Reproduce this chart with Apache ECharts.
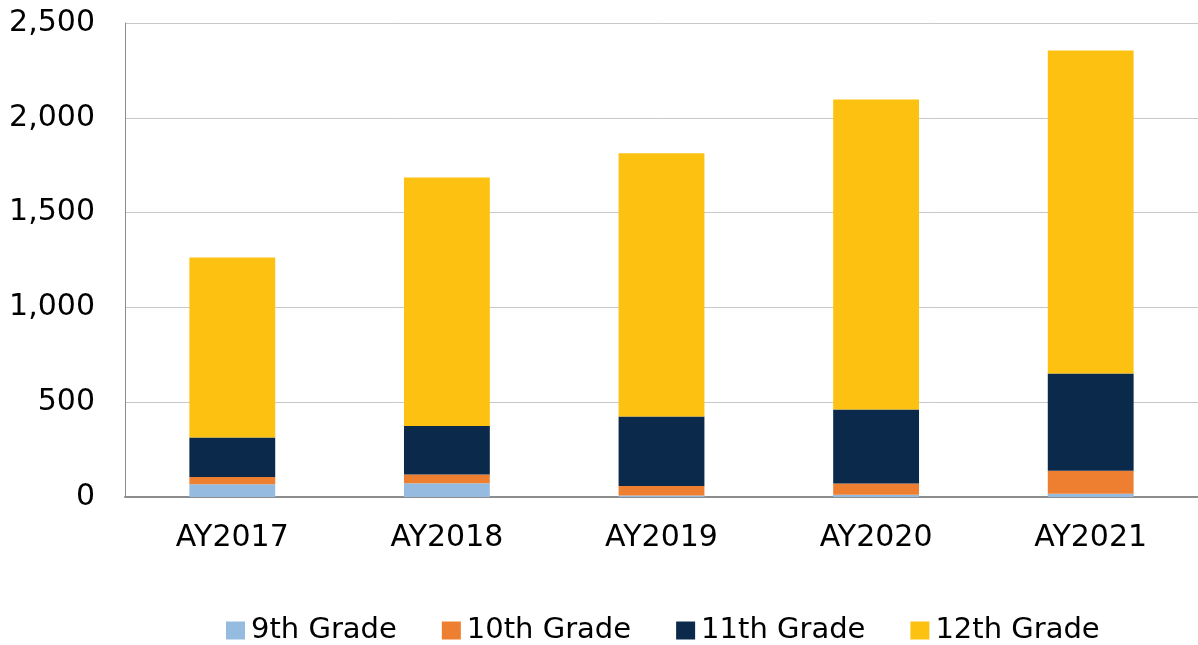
<!DOCTYPE html>
<html>
<head>
<meta charset="utf-8">
<script src="https://cdn.jsdelivr.net/npm/echarts@6/dist/echarts.min.js"></script>
<style>
  html, body { margin: 0; padding: 0; background: #fff; }
  #chart { width: 1198px; height: 645px; }
</style>
</head>
<body>
<div id="chart"></div>
<script>
// Enrollment by grade level, per academic year
const years = ['AY2017', 'AY2018', 'AY2019', 'AY2020', 'AY2021'];
const grade9 = [67, 73, 8, 12, 17];
const grade10 = [39, 46, 50, 59, 121];
const grade11 = [208, 256, 366, 390, 513];
const grade12 = [949, 1310, 1389, 1635, 1704];
const yTicks = [0, 500, 1000, 1500, 2000, 2500];

const font = '"DejaVu Sans", Arial, sans-serif';

function barSeries(name, data, color) {
  return {
    name: name,
    type: 'bar',
    stack: 'total',
    barWidth: '40%',
    data: data,
    itemStyle: { color: color },
    emphasis: { disabled: true }
  };
}

const chart = echarts.init(document.getElementById('chart'), null, { renderer: 'canvas' });
chart.setOption({
  animation: false,
  grid: { left: 125, right: 0, top: 23, bottom: 148 },
  legend: {
    top: 611,
    left: 221,
    itemWidth: 19,
    itemHeight: 18,
    itemGap: 45,
    icon: 'rect',
    textStyle: { fontFamily: font, fontSize: 29, color: '#000', padding: [0, 0, 0, 1] },
    data: ['9th Grade', '10th Grade', '11th Grade', '12th Grade']
  },
  xAxis: {
    type: 'category',
    data: years,
    axisLine: { lineStyle: { color: '#8c8c8c', width: 2 } },
    axisTick: { show: false },
    axisLabel: { fontFamily: font, fontSize: 30, color: '#000', margin: 26 }
  },
  yAxis: {
    type: 'value',
    min: yTicks[0],
    max: yTicks[yTicks.length - 1],
    interval: 500,
    axisLine: { show: true, lineStyle: { color: '#8c8c8c', width: 1 } },
    axisTick: { show: false },
    splitLine: { lineStyle: { color: '#c8c8c8', width: 1 } },
    axisLabel: {
      fontFamily: font, fontSize: 30, color: '#000', margin: 30,
      formatter: v => v.toLocaleString('en-US')
    }
  },
  series: [
    barSeries('9th Grade', grade9, '#95bce0'),
    barSeries('10th Grade', grade10, '#ee7f31'),
    barSeries('11th Grade', grade11, '#0b2a4b'),
    barSeries('12th Grade', grade12, '#fdc211')
  ]
});
</script>
</body>
</html>
